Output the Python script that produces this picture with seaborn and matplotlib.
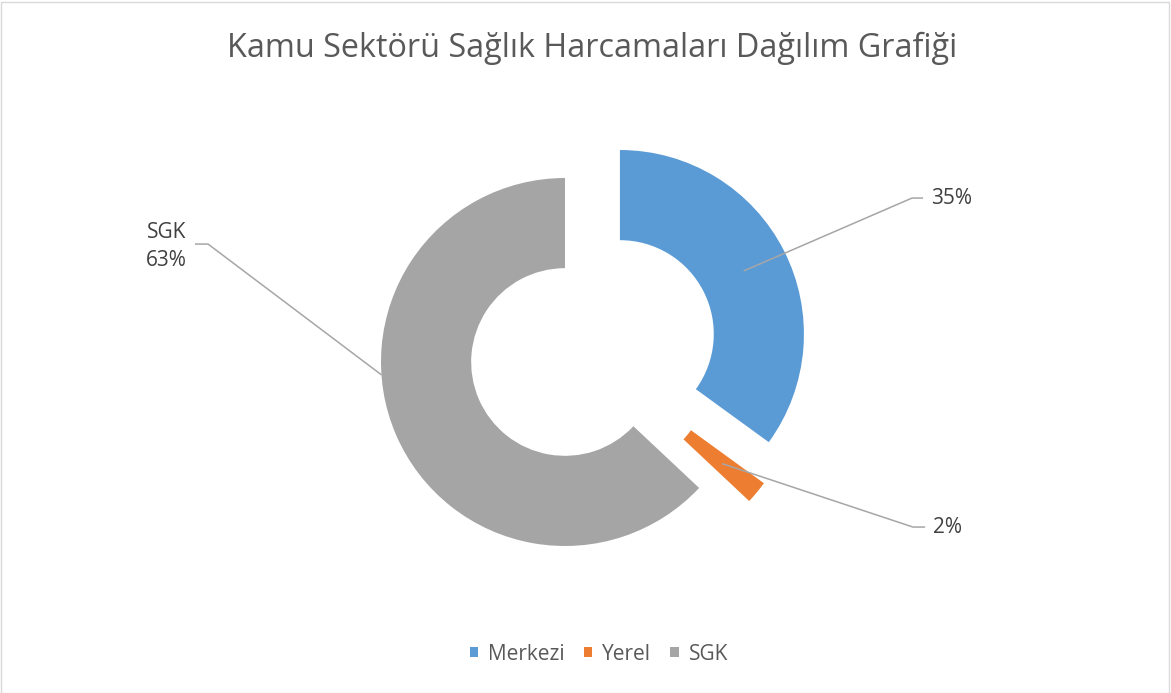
import numpy as np
import seaborn as sns
import matplotlib.pyplot as plt
from matplotlib.patches import Rectangle

# Data
categories = ['Merkezi', 'Yerel', 'SGK']
shares = [35, 2, 63]
colors = ['#5B9BD5', '#ED7D31', '#A5A5A5']
title = 'Kamu Sektörü Sağlık Harcamaları Dağılım Grafiği'

sns.set_theme(style='white')
plt.rcParams['font.family'] = ['Open Sans', 'DejaVu Sans']

fig = plt.figure(figsize=(11.71, 6.93), dpi=100)
ax = fig.add_axes([0, 0, 1, 1])

ring = 0.49
wedges, _ = ax.pie(shares, colors=colors, explode=[0.335, 0, 0], startangle=90,
                   counterclock=False, radius=1,
                   wedgeprops=dict(width=ring, edgecolor='none'))
# Excel pulls the small slice out slightly off its own radius
wedges[1].set_center((0.272, -0.071))

# 1 data unit = 184 px, donut centre at pixel (565, 362)
ax.set_aspect('auto')
ax.set_xlim(-565 / 184, (1171 - 565) / 184)
ax.set_ylim(-(693 - 362) / 184, 362 / 184)
ax.axis('off')

line_kw = dict(color='#A6A6A6', lw=1.1, solid_capstyle='butt')
text_kw = dict(color='#404040', fontsize=15)


def mid_point(w, r):
    t = np.deg2rad((w.theta1 + w.theta2) / 2)
    cx, cy = w.center
    return cx + r * np.cos(t), cy + r * np.sin(t)


r_mid = 1 - ring / 2
# Merkezi
x0, y0 = mid_point(wedges[0], r_mid)
ax.plot([x0, 1.886, 1.946], [y0, 0.891, 0.891], **line_kw)
ax.text(1.99, 0.886, f'{shares[0]}%', va='center', ha='left', **text_kw)
# Yerel
x0, y0 = mid_point(wedges[1], r_mid)
ax.plot([x0, 1.891, 1.957], [y0, -0.897, -0.897], **line_kw)
ax.text(2.0, -0.902, f'{shares[1]}%', va='center', ha='left', **text_kw)
# SGK
t = np.deg2rad(184)
x0, y0 = np.cos(t), np.sin(t)
ax.plot([x0, -1.940, -2.011], [y0, 0.641, 0.641], **line_kw)
ax.text(-2.166, 0.628, f'{categories[2]}\n{shares[2]}%', va='center', ha='center',
        linespacing=1.4, **text_kw)

fig.text(0.506, 1 - 48 / 693, title, ha='center', va='center',
         fontsize=23.3, color='#595959')

leg = ax.legend(wedges, categories, loc='center', bbox_to_anchor=(0.5115, 1 - 654 / 693),
                ncol=3, frameon=False, handlelength=0.4, handleheight=0.4,
                handletextpad=0.5, columnspacing=0.9, fontsize=15)
for txt in leg.get_texts():
    txt.set_color('#595959')

fig.patches.append(Rectangle((0.5 / 1171, 0.5 / 693), 1 - 2.5 / 1171, 1 - 2.5 / 693,
                             transform=fig.transFigure, fill=False,
                             edgecolor='#D9D9D9', lw=1))

fig.savefig('out.png', dpi=100, facecolor='white')
